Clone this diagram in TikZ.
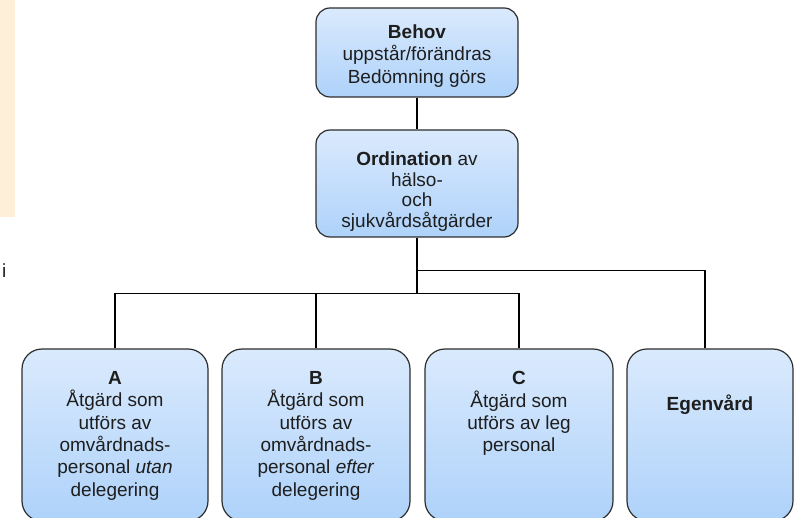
\documentclass[tikz,border=0pt]{standalone}
\usepackage{fontspec}
\setmainfont{Liberation Sans}
\usetikzlibrary{calc}
\usetikzlibrary{positioning}

\definecolor{boxtop}{RGB}{218,234,253}
\definecolor{boxbottom}{RGB}{174,210,250}
\definecolor{boxline}{RGB}{45,45,45}
\definecolor{notecream}{RGB}{254,239,217}
\definecolor{inktext}{RGB}{30,30,30}

\begin{document}
\begin{tikzpicture}[x=1pt,y=-1pt,
    every node/.style={font=\fontsize{19}{22.3}\selectfont, text=inktext},
    stage/.style={draw=boxline, line width=1.2pt, rounded corners=14pt,
        top color=boxtop, bottom color=boxbottom,
        minimum width=202pt, minimum height=89pt, inner sep=0pt},
    action/.style={stage, rounded corners=20pt, minimum height=172pt},
    boxtext/.style={anchor=north, align=center, inner sep=0pt},
    link/.style={line width=1.5pt, black}]
        \useasboundingbox (0,0) rectangle (794,518);
        \clip (0,0) rectangle (794,518);
        \fill[notecream] (0,0) rectangle (15,217);
        \node[anchor=west, inner sep=0pt] (stray) at (2,271) {i};
        \node[stage] (behov) at (417,52.5) {};
        \node[stage, minimum height=107pt] (ordination) at (417,183.5) {};
        \node[action, minimum width=186pt] (a) at (115,435) {};
        \node[action, minimum width=188pt] (b) at (316,435) {};
        \node[action, minimum width=188pt] (c) at (519,435) {};
        \node[action, minimum width=166pt] (egen) at (710,435) {};
        \node[boxtext, font=\fontsize{19}{22.5}\selectfont] (behovtext) at ($(behov.north)+(0,17)$) {\textbf{Behov}\\uppstår/förändras\\Bedömning görs};
        \node[boxtext, font=\fontsize{19}{20.8}\selectfont] (ordtext) at ($(ordination.north)+(0,22)$) {\textbf{Ordination} av\\hälso-\\och\\sjukvårdsåtgärder};
        \node[boxtext] (atext) at ($(a.north)+(0,23)$) {\textbf{A}\\Åtgärd som\\utförs av\\omvårdnads-\\personal \textit{utan}\\delegering};
        \node[boxtext] (btext) at ($(b.north)+(0,23)$) {\textbf{B}\\Åtgärd som\\utförs av\\omvårdnads-\\personal \textit{efter}\\delegering};
        \node[boxtext] (ctext) at ($(c.north)+(0,23)$) {\textbf{C}\\Åtgärd som\\utförs av leg\\personal};
        \node[boxtext] (egentext) at ($(egen.north)+(0,46)$) {\textbf{Egenvård}};
        \draw[link] (behov) -- (ordination);
        \coordinate (fork) at ($(ordination.south)+(0,56)$);
        \coordinate (selfcare) at ($(ordination.south)+(0,33)$);
        \draw[link] (ordination.south) -- (fork);
        \draw[link] (a.north) |- (fork) -| (c.north);
        \draw[link] (b.north) -- (b.north |- fork);
        \draw[link] (selfcare) -| ([xshift=-5pt]egen.north);
    \end{tikzpicture}
\end{document}
